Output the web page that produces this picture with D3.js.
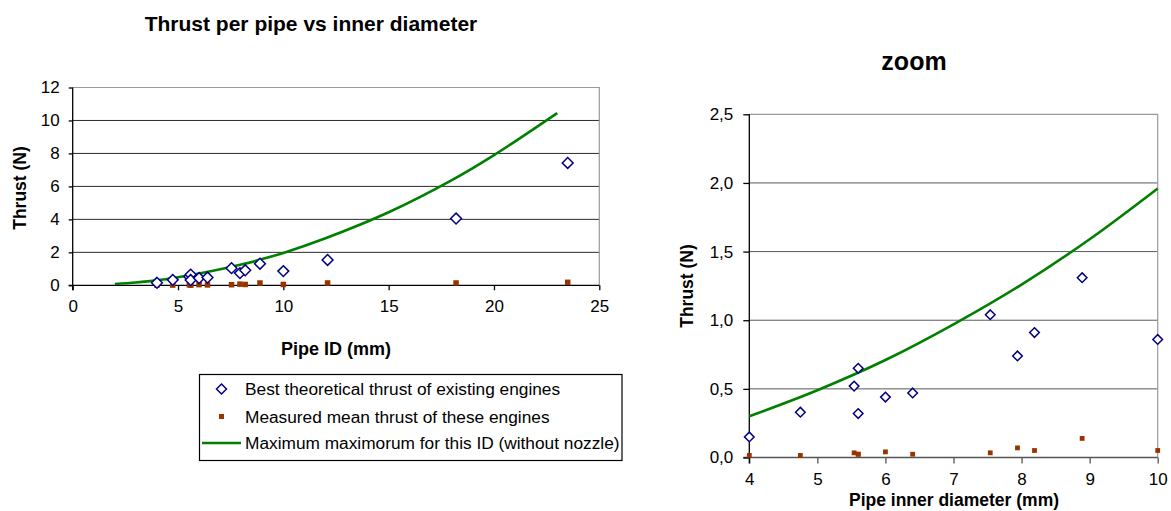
<!DOCTYPE html>
<html><head><meta charset="utf-8">
<script src="https://cdn.jsdelivr.net/npm/d3@7"></script>
<style>
body{margin:0;background:#fff;}
svg{font-family:"Liberation Sans",Arial,sans-serif;}
</style></head>
<body><svg id="c" width="1171" height="511"></svg>
<script>
// ---- data ----
const pipeDiameters   = [4.0, 4.75, 5.54, 5.60, 5.60, 6.0, 6.40, 7.54, 7.94, 8.19, 8.89, 10.0, 12.1, 18.2, 23.5];
const bestTheoretical = [0.15, 0.33, 0.52, 0.65, 0.32, 0.44, 0.47, 1.04, 0.74, 0.91, 1.31, 0.86, 1.54, 4.05, 7.42];
const measuredMean    = [0.015, 0.015, 0.034, 0.024, 0.024, 0.041, 0.024, 0.034, 0.07, 0.051, 0.139, 0.051, 0.14, 0.14, 0.18];
const maxDiameters    = [2, 3, 4, 5, 6, 7, 8, 9, 10, 12, 15, 18, 20, 23];
const maxThrust       = [0.08, 0.17, 0.30, 0.49, 0.71, 0.97, 1.26, 1.59, 1.96, 2.85, 4.43, 6.38, 7.9, 10.45];
const leftXTicks  = [0, 5, 10, 15, 20, 25];
const leftYTicks  = [0, 2, 4, 6, 8, 10, 12];
const rightXTicks = [4, 5, 6, 7, 8, 9, 10];
const rightYTicks = [0, 0.5, 1.0, 1.5, 2.0, 2.5];
const seriesNames = ["Best theoretical thrust of existing engines",
                     "Measured mean thrust of these engines",
                     "Maximum maximorum for this ID (without nozzle)"];

const svg = d3.select("#c");
const BLUE = "#000080", RED = "#993300", GREEN = "#008000";
const pts = pipeDiameters.map((d,i)=>({d, best: bestTheoretical[i], meas: measuredMean[i]}));
const curve = maxDiameters.map((d,i)=>({d, f: maxThrust[i]}));

function diamond(h){ return `M0,${-h}L${h},0L0,${h}L${-h},0Z`; }

function drawChart(o){
  const g = svg.append("g");
  const x = d3.scaleLinear().domain(o.xd).range([o.x0, o.x1]);
  const y = d3.scaleLinear().domain(o.yd).range([o.y1, o.y0]);
  // gridlines
  g.selectAll(".grid").data(o.yt.filter(v=>v>o.yd[0] && v<o.yd[1])).enter().append("line")
    .attr("x1", o.x0).attr("x2", o.x1).attr("y1", d=>y(d)).attr("y2", d=>y(d))
    .attr("stroke", o.gridColor).attr("stroke-width", 1);
  // border top/right
  g.append("path").attr("d", `M${o.x0},${o.y0}H${o.x1}V${o.y1}`)
    .attr("fill","none").attr("stroke", "#9a9a9a").attr("stroke-width", 1.2);
  // axes
  const xa = g.append("g").attr("transform", `translate(0,${o.y1})`)
    .call(d3.axisBottom(x).tickValues(o.xt).tickSize(o.xTick).tickSizeOuter(0).tickPadding(o.xPad).tickFormat(o.xf));
  xa.select(".domain").attr("stroke", o.xAxisColor).attr("stroke-width", 1.3)
    .attr("d", `M${o.x0 - o.yTick},0H${o.x1}`);
  xa.selectAll(".tick line").attr("stroke", o.xAxisColor).attr("stroke-width", 1.3);
  xa.selectAll("text").attr("font-size", o.fs).attr("fill", "#000");
  const ya = g.append("g").attr("transform", `translate(${o.x0},0)`)
    .call(d3.axisLeft(y).tickValues(o.yt).tickSize(o.yTick).tickSizeOuter(0).tickPadding(o.yPad).tickFormat(o.yf));
  ya.select(".domain").attr("stroke", "#000").attr("stroke-width", 1.3)
    .attr("d", `M0,${o.y0}V${o.y1 + o.xTick}`);
  ya.selectAll(".tick line").attr("stroke", "#000").attr("stroke-width", 1.3);
  ya.selectAll("text").attr("font-size", o.fs).attr("fill", "#000");
  // curve
  const cdata = curve.filter(c=>c.d>=o.xd[0] && c.d<=o.xd[1]);
  g.append("path").datum(cdata)
    .attr("d", d3.line().x(c=>x(c.d)).y(c=>y(c.f)).curve(d3.curveCatmullRom))
    .attr("fill","none").attr("stroke", GREEN).attr("stroke-width", 2.6);
  const pd = pts.filter(p=>p.d>=o.xd[0] && p.d<=o.xd[1]);
  // measured squares
  g.selectAll(".sq").data(pd).enter().append("rect")
    .attr("x", p=>x(p.d)-o.sq/2).attr("y", p=>y(p.meas)-o.sq/2)
    .attr("width", o.sq).attr("height", o.sq).attr("fill", RED);
  // diamonds
  g.selectAll(".dm").data(pd).enter().append("path")
    .attr("transform", p=>`translate(${x(p.d)},${y(p.best)})`)
    .attr("d", diamond(o.dm)).attr("fill","#fff").attr("stroke", BLUE).attr("stroke-width", 1.5);
  // titles
  svg.append("text").attr("x", o.title[0]).attr("y", o.title[1]).attr("text-anchor","middle")
    .attr("font-weight","bold").attr("font-size", o.title[2]).text(o.title[3]);
  svg.append("text").attr("x", o.xl[0]).attr("y", o.xl[1]).attr("text-anchor","middle")
    .attr("font-weight","bold").attr("font-size", o.xl[2]).text(o.xl[3]);
  svg.append("text").attr("transform", `translate(${o.yl[0]},${o.yl[1]}) rotate(-90)`)
    .attr("text-anchor","middle").attr("dominant-baseline","central")
    .attr("font-weight","bold").attr("font-size", o.yl[2]).text(o.yl[3]);
}

drawChart({
  xd:[0,25], yd:[0,12], x0:72.7, x1:599.3, y0:87.5, y1:285.3,
  xt:leftXTicks, yt:leftYTicks, xf:d3.format("d"), yf:d3.format("d"),
  xTick:5, yTick:4, xPad:10, yPad:9, fs:17,
  gridColor:"#2a2a2a", xAxisColor:"#000", sq:5.5, dm:5.4,
  title:[311, 31, 21, "Thrust per pipe vs inner diameter"],
  xl:[336, 355, 18, "Pipe ID (mm)"],
  yl:[20, 188, 17.5, "Thrust (N)"]
});

const comma = v => d3.format(".1f")(v).replace(".", ",");
drawChart({
  xd:[4,10], yd:[0,2.5], x0:749.3, x1:1157.7, y0:114.3, y1:457.5,
  xt:rightXTicks, yt:rightYTicks, xf:d3.format("d"), yf:comma,
  xTick:6, yTick:6, xPad:9, yPad:10, fs:17,
  gridColor:"#5a5a5a", xAxisColor:"#555", sq:4.8, dm:4.8,
  title:[914, 70, 25, "zoom"],
  xl:[954, 506, 17.5, "Pipe inner diameter (mm)"],
  yl:[687, 286, 17.5, "Thrust (N)"]
});

// legend
const lg = svg.append("g");
lg.append("rect").attr("x", 199.5).attr("y", 374.5).attr("width", 422.5).attr("height", 86)
  .attr("fill","#fff").attr("stroke","#000").attr("stroke-width",1.2);
const rowsY = [389, 416.5, 443];
seriesNames.forEach((name,i)=>{
  const cy = rowsY[i];
  if(i===0){
    lg.append("path").attr("transform",`translate(221.5,${cy})`).attr("d", diamond(5))
      .attr("fill","#fff").attr("stroke",BLUE).attr("stroke-width",1.5);
  } else if(i===1){
    lg.append("rect").attr("x",219).attr("y",cy-2.5).attr("width",5).attr("height",5).attr("fill",RED);
  } else {
    lg.append("line").attr("x1",202).attr("x2",241).attr("y1",cy).attr("y2",cy)
      .attr("stroke",GREEN).attr("stroke-width",2.6);
  }
  lg.append("text").attr("x",245).attr("y",cy).attr("dominant-baseline","central")
    .attr("font-size",17.3).text(name);
});
</script></body></html>
